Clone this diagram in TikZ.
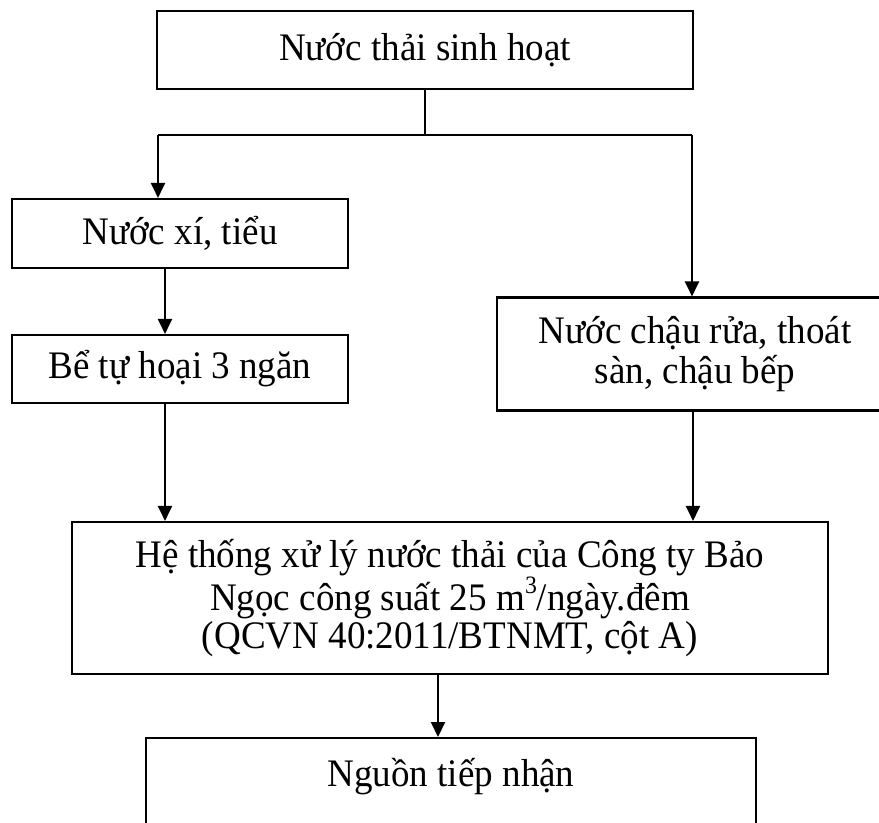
\documentclass[tikz,border=0pt]{standalone}
\usepackage{fontspec}
\setmainfont{Liberation Serif}[FakeStretch=0.95]
\usetikzlibrary{arrows.meta}
\newcommand{\cubesup}{\raisebox{0.42em}{\fontsize{25bp}{25bp}\selectfont 3}}

\begin{document}
\begin{tikzpicture}[x=1bp,y=-1bp,
  every node/.style={font=\fontsize{39bp}{38bp}\selectfont},
  box/.style={draw, line width=2.1bp, inner sep=0pt, align=center, rectangle},
  link/.style={line width=2.1bp},
  flow/.style={line width=2.1bp, -{Triangle[length=15bp,width=14bp]}}]
  \useasboundingbox (0,0) rectangle (879,823);
  \clip (0,0) rectangle (879,823);

  % process boxes
  \node[box, minimum width=536bp, minimum height=78bp] (src) at (425,50) {Nước thải sinh hoạt};
  \node[box, minimum width=336bp, minimum height=69bp] (wc) at (180,233.5) {Nước xí, tiểu};
  \node[box, minimum width=336bp, minimum height=68bp] (tank) at (180,369) {Bể tự hoại 3 ngăn};
  \node[box, minimum width=396bp, minimum height=113bp,
        font=\fontsize{39bp}{40bp}\selectfont] (grey) at (695,354) {Nước chậu rửa, thoát\\sàn, chậu bếp};
  \node[box, minimum width=756bp, minimum height=152bp] (plant) at (450,598)
    {Hệ thống xử lý nước thải của Công ty Bảo\\Ngọc công suất 25 m\cubesup/ngày.đêm\\(QCVN 40:2011/BTNMT, cột A)};
  \node[box, anchor=north, minimum width=610bp, text height=48bp, text depth=200bp] (recv) at (451,737) {Nguồn tiếp nhận};

  % branching from the source
  \coordinate (jl) at (158,135);
  \coordinate (jr) at (692,135);
  \draw[link] (src.south) -- (src.south |- jl);
  \draw[link] (jl) -- (jr);
  \draw[flow] (jl) -- (jl |- wc.north);
  \draw[flow] (jr) -- (jr |- grey.north);

  % vertical flows
  \coordinate (ax) at (165,0);
  \coordinate (bx) at (693,0);
  \coordinate (cx) at (438,0);
  \draw[flow] (ax |- wc.south) -- (ax |- tank.north);
  \draw[flow] (ax |- tank.south) -- (ax |- plant.north);
  \draw[flow] (bx |- grey.south) -- (bx |- plant.north);
  \draw[flow] (cx |- plant.south) -- (cx |- recv.north);
\end{tikzpicture}
\end{document}
